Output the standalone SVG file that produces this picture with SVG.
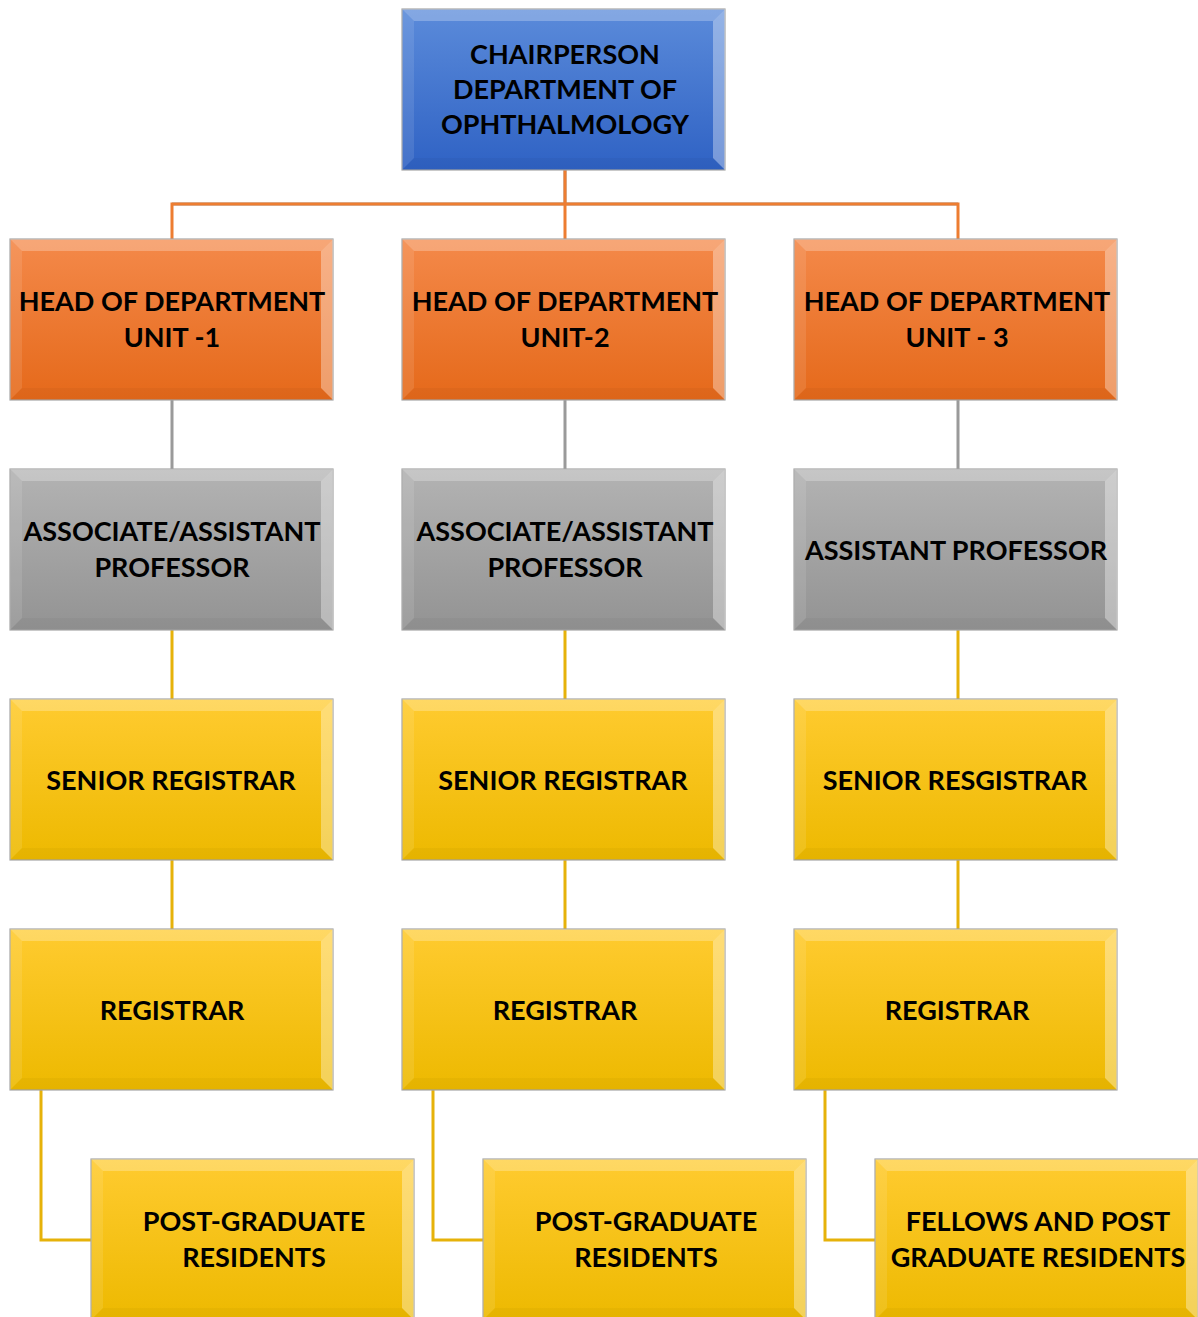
<svg xmlns="http://www.w3.org/2000/svg" xmlns:xlink="http://www.w3.org/1999/xlink" width="1198" height="1317" viewBox="0 0 1198 1317">
<style>
.t{font-family:Lato,"Liberation Sans",sans-serif;font-weight:bold;font-size:27px;fill:#000;text-anchor:middle}
.box{stroke:#a6a6a6;stroke-width:1.2}
.co{fill:none;stroke:#ED7D31;stroke-width:3}
.cg{fill:none;stroke:#9a9a9a;stroke-width:3}
.cy{fill:none;stroke:#E6B20A;stroke-width:3}
</style>
<defs>
<linearGradient id="gb" x1="0" y1="0" x2="0" y2="1"><stop offset="0" stop-color="#5B8BDA"/><stop offset="1" stop-color="#2F62C4"/></linearGradient>
<linearGradient id="go" x1="0" y1="0" x2="0" y2="1"><stop offset="0" stop-color="#F4894A"/><stop offset="1" stop-color="#E5691A"/></linearGradient>
<linearGradient id="gg" x1="0" y1="0" x2="0" y2="1"><stop offset="0" stop-color="#B3B3B3"/><stop offset="1" stop-color="#939393"/></linearGradient>
<linearGradient id="gy" x1="0" y1="0" x2="0" y2="1"><stop offset="0" stop-color="#FFCB30"/><stop offset="1" stop-color="#EDB900"/></linearGradient>
<g id="bevel">
<polygon points="0,0 323,0 311,12 12,12" fill="#fff" fill-opacity="0.25"/>
<polygon points="0,0 12,12 12,149 0,161" fill="#fff" fill-opacity="0.1"/>
<polygon points="323,0 323,161 311,149 311,12" fill="#fff" fill-opacity="0.35"/>
<polygon points="0,161 12,149 311,149 323,161" fill="#000" fill-opacity="0.03"/>
</g>
</defs>
<rect width="1198" height="1317" fill="#fff"/>
<g id="connectors">
<path class="cg" d="M565,170 V204 M172,204 H958" stroke-width="5"/>
<path class="co" d="M565,170 V239 M172,239 V204 H958 V239"/>
<path class="cg" d="M172,400 V469 M565,400 V469 M958,400 V469"/>
<path class="cy" d="M172,630 V699 M565,630 V699 M958,630 V699"/>
<path class="cy" d="M172,860 V929 M565,860 V929 M958,860 V929"/>
<path class="cy" d="M41,1090 V1240 H91 M433,1090 V1240 H483 M825,1090 V1240 H875"/>
</g>
<g id="chair"><rect class="box" x="402" y="9" width="323" height="161" fill="url(#gb)"/><use xlink:href="#bevel" x="402" y="9"/>
<text class="t" x="565" y="64">CHAIRPERSON</text><text class="t" x="565" y="99">DEPARTMENT OF</text><text class="t" x="565" y="134">OPHTHALMOLOGY</text></g>
<g id="hod1"><rect class="box" x="10" y="239" width="323" height="161" fill="url(#go)"/><use xlink:href="#bevel" x="10" y="239"/>
<text class="t" x="172" y="311">HEAD OF DEPARTMENT</text><text class="t" x="172" y="347">UNIT -1</text></g>
<g id="hod2"><rect class="box" x="402" y="239" width="323" height="161" fill="url(#go)"/><use xlink:href="#bevel" x="402" y="239"/>
<text class="t" x="565" y="311">HEAD OF DEPARTMENT</text><text class="t" x="565" y="347">UNIT-2</text></g>
<g id="hod3"><rect class="box" x="794" y="239" width="323" height="161" fill="url(#go)"/><use xlink:href="#bevel" x="794" y="239"/>
<text class="t" x="957" y="311">HEAD OF DEPARTMENT</text><text class="t" x="957" y="347">UNIT - 3</text></g>
<g id="prof1"><rect class="box" x="10" y="469" width="323" height="161" fill="url(#gg)"/><use xlink:href="#bevel" x="10" y="469"/>
<text class="t" x="172" y="541">ASSOCIATE/ASSISTANT</text><text class="t" x="172" y="577">PROFESSOR</text></g>
<g id="prof2"><rect class="box" x="402" y="469" width="323" height="161" fill="url(#gg)"/><use xlink:href="#bevel" x="402" y="469"/>
<text class="t" x="565" y="541">ASSOCIATE/ASSISTANT</text><text class="t" x="565" y="577">PROFESSOR</text></g>
<g id="prof3"><rect class="box" x="794" y="469" width="323" height="161" fill="url(#gg)"/><use xlink:href="#bevel" x="794" y="469"/>
<text class="t" x="956" y="560">ASSISTANT PROFESSOR</text></g>
<g id="sr1"><rect class="box" x="10" y="699" width="323" height="161" fill="url(#gy)"/><use xlink:href="#bevel" x="10" y="699"/>
<text class="t" x="171" y="790">SENIOR REGISTRAR</text></g>
<g id="sr2"><rect class="box" x="402" y="699" width="323" height="161" fill="url(#gy)"/><use xlink:href="#bevel" x="402" y="699"/>
<text class="t" x="563" y="790">SENIOR REGISTRAR</text></g>
<g id="sr3"><rect class="box" x="794" y="699" width="323" height="161" fill="url(#gy)"/><use xlink:href="#bevel" x="794" y="699"/>
<text class="t" x="955" y="790">SENIOR RESGISTRAR</text></g>
<g id="reg1"><rect class="box" x="10" y="929" width="323" height="161" fill="url(#gy)"/><use xlink:href="#bevel" x="10" y="929"/>
<text class="t" x="172" y="1020">REGISTRAR</text></g>
<g id="reg2"><rect class="box" x="402" y="929" width="323" height="161" fill="url(#gy)"/><use xlink:href="#bevel" x="402" y="929"/>
<text class="t" x="565" y="1020">REGISTRAR</text></g>
<g id="reg3"><rect class="box" x="794" y="929" width="323" height="161" fill="url(#gy)"/><use xlink:href="#bevel" x="794" y="929"/>
<text class="t" x="957" y="1020">REGISTRAR</text></g>
<g id="pg1"><rect class="box" x="91" y="1159" width="323" height="161" fill="url(#gy)"/><use xlink:href="#bevel" x="91" y="1159"/>
<text class="t" x="254" y="1231">POST-GRADUATE</text><text class="t" x="254" y="1267">RESIDENTS</text></g>
<g id="pg2"><rect class="box" x="483" y="1159" width="323" height="161" fill="url(#gy)"/><use xlink:href="#bevel" x="483" y="1159"/>
<text class="t" x="646" y="1231">POST-GRADUATE</text><text class="t" x="646" y="1267">RESIDENTS</text></g>
<g id="pg3"><rect class="box" x="875" y="1159" width="323" height="161" fill="url(#gy)"/><use xlink:href="#bevel" x="875" y="1159"/>
<text class="t" x="1038" y="1231">FELLOWS AND POST</text><text class="t" x="1038" y="1267">GRADUATE RESIDENTS</text></g>
</svg>
